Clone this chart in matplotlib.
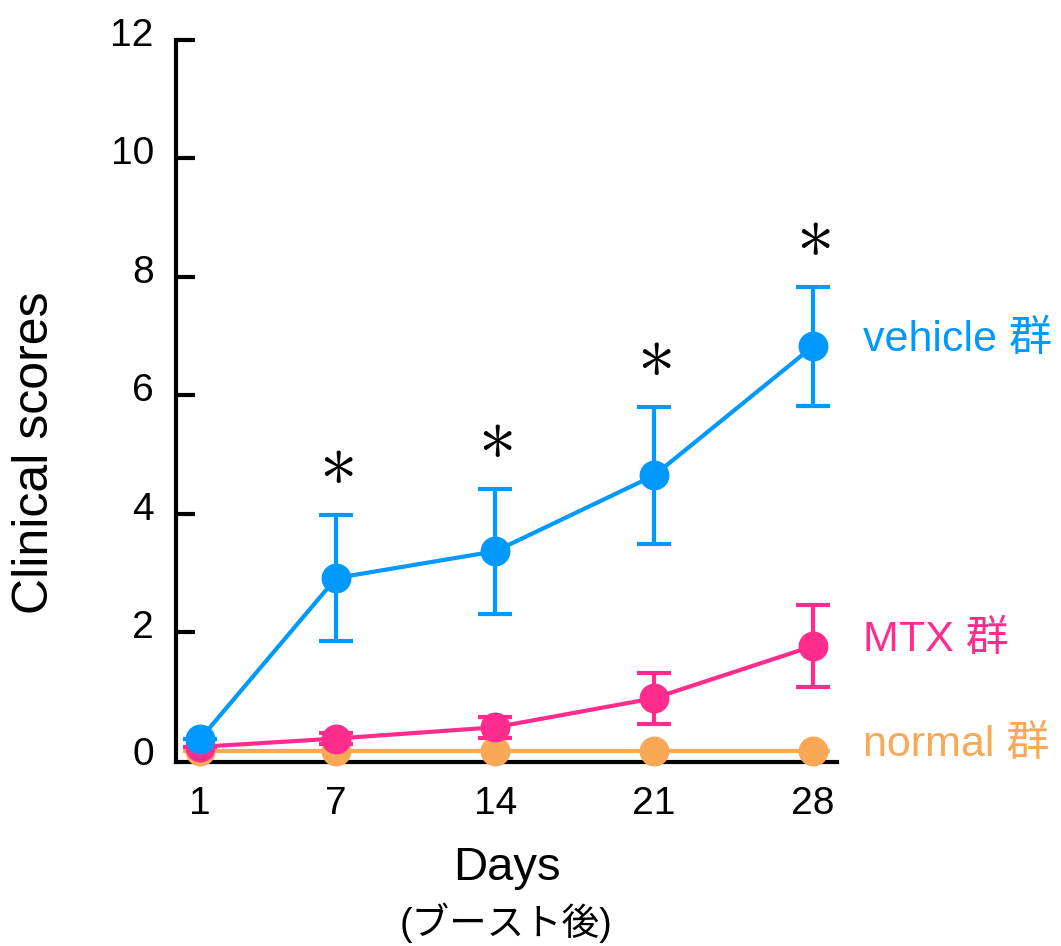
import matplotlib
matplotlib.use("Agg")
import matplotlib.pyplot as plt
from matplotlib.transforms import ScaledTranslation

plt.rcParams['font.family'] = ['Liberation Sans', 'Noto Sans CJK JP', 'DejaVu Sans']
plt.rcParams['mathtext.fontset'] = 'cm'

# ---- data ----
days = [1, 7, 14, 21, 28]
vehicle = [0.20, 2.92, 3.37, 4.65, 6.83]
vehicle_err = [0.0, 1.07, 1.05, 1.15, 1.00]
mtx = [0.07, 0.21, 0.40, 0.89, 1.77]
mtx_err = [0.0, 0.10, 0.18, 0.43, 0.69]
normal = [0.0, 0.0, 0.0, 0.0, 0.0]
normal_err = [0.0, 0.0, 0.0, 0.0, 0.0]
sig_days = [7, 14, 21, 28]
series_labels = ['normal 群', 'MTX 群', 'vehicle 群']
x_ticklabels = ['1', '7', '14', '21', '28']
y_ticks = [0, 2, 4, 6, 8, 10, 12]
xlabel = 'Days'
xlabel_sub = '(ブースト後)'
ylabel = 'Clinical scores'

colors = {'normal 群': '#F9A856', 'MTX 群': '#FF2C8E', 'vehicle 群': '#0099FF'}

fig = plt.figure(figsize=(10.61, 9.46), dpi=100)
ax = fig.add_axes([176/1061, 1 - 762/946, (837-176)/1061, (762-40)/946])

series = [(normal, normal_err), (mtx, mtx_err), (vehicle, vehicle_err)]
for z, (lab, (vals, errs)) in enumerate(zip(series_labels, series)):
    c = colors[lab]
    ax.errorbar(days, vals, yerr=errs, color=c, lw=3, marker='o', ms=20.5,
                mec=c, mfc=c, capsize=12, capthick=3, elinewidth=3,
                zorder=3 + z, clip_on=False)
    ax.text(30.2, vals[-1] + 0.1, lab, color=c, fontsize=31,
            ha='left', va='center', clip_on=False)

# significance asterisks
for d in sig_days:
    i = days.index(d)
    ax.text(d, vehicle[i] + vehicle_err[i] + 0.85, r'$\mathbf{\ast}$', fontsize=54,
            ha='center', va='center', color='black')

ax.set_xlim(-0.06, 29.06)
ax.set_ylim(-0.186, 12)
ax.set_xticks(days)
ax.set_xticklabels(x_ticklabels)
ax.set_yticks(y_ticks)
ax.set_yticklabels([str(v) for v in y_ticks])

for s in ['top', 'right']:
    ax.spines[s].set_visible(False)
for s in ['left', 'bottom']:
    ax.spines[s].set_linewidth(3)

ax.tick_params(axis='x', length=0, pad=17, labelsize=28)
ax.tick_params(axis='y', direction='in', length=13.5, width=3, pad=16, labelsize=28)
yt = ax.yaxis.get_major_ticks()
yt[0].tick1line.set_visible(False)
off = ScaledTranslation(0, 8/100, fig.dpi_scale_trans)
for t in yt[1:]:
    t.label1.set_transform(t.label1.get_transform() + off)

fig.text(35/1061, 1 - 453/946, ylabel, fontsize=36, rotation=90,
         ha='center', va='center')

axc = (176 + 837) / 2 / 1061
fig.text(axc, 1 - 868/946, xlabel, fontsize=34, ha='center', va='center')
fig.text(axc, 1 - 923/946, xlabel_sub, fontsize=27, ha='center', va='center')

fig.savefig('out.png', dpi=100)
